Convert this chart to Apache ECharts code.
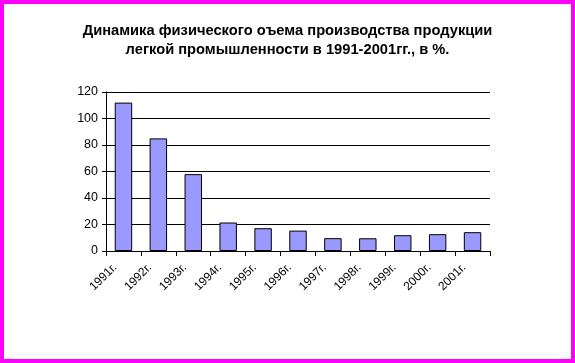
<!DOCTYPE html>
<html><head><meta charset="utf-8">
<script src="https://cdn.jsdelivr.net/npm/echarts@6/dist/echarts.min.js"></script>
<style>
html,body{margin:0;padding:0;background:#fff;}
#wrap{position:absolute;left:0;top:0;width:575px;height:363px;box-sizing:border-box;border:4px solid #FF00FF;}
#c{position:absolute;left:0;top:0;width:575px;height:363px;}
</style></head>
<body><div id="c"></div><div id="wrap"></div>
<script>
var categories = ['1991г.','1992г.','1993г.','1994г.','1995г.','1996г.','1997г.','1998г.','1999г.','2000г.','2001г.'];
var values = [112, 85, 58, 21.5, 17.2, 15.4, 9.7, 9.6, 11.9, 12.7, 14.2];
var titleText = 'Динамика физического оъема производства продукции\nлегкой промышленности в 1991-2001гг., в %.';
var chart = echarts.init(document.getElementById('c'), null, {renderer:'canvas'});
chart.setOption({
  animation:false,
  backgroundColor:'#fff',
  title:{text:titleText,left:'center',top:16,
    textStyle:{fontFamily:'Liberation Sans, Arial',fontWeight:'bold',fontSize:14.7,lineHeight:19,color:'#000'}},
  grid:{left:106,right:85,top:92,bottom:112,containLabel:false},
  xAxis:{type:'category',data:categories,
    axisLine:{lineStyle:{color:'#000',width:1}},
    axisTick:{show:true,length:5,inside:false,alignWithLabel:false,lineStyle:{color:'#000'}},
    axisLabel:{rotate:45,interval:0,margin:6,padding:[0,12,0,0],fontFamily:'Liberation Sans, Arial',fontSize:12,color:'#000'}},
  yAxis:{type:'value',min:0,max:120,interval:20,
    axisLine:{show:true,lineStyle:{color:'#000'}},
    axisTick:{show:true,length:4,lineStyle:{color:'#000'}},
    axisLabel:{margin:8,fontFamily:'Liberation Sans, Arial',fontSize:12.5,color:'#000'},
    splitLine:{lineStyle:{color:'#000',width:1}}},
  series:[{type:'bar',data:values,barWidth:'50%',
    itemStyle:{color:'#9999FF',borderColor:'#000',borderWidth:1}}]
});
</script></body></html>
